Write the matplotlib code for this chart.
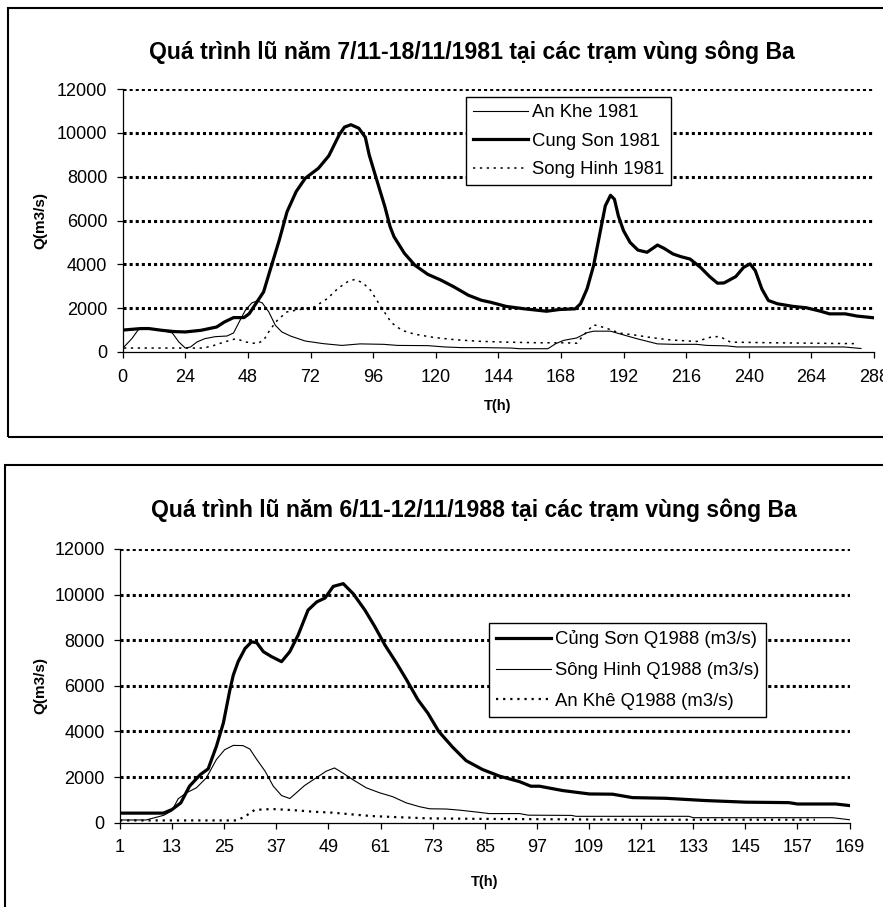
import matplotlib
matplotlib.use("Agg")
import matplotlib.pyplot as plt
from matplotlib.patches import Rectangle

plt.rcParams['font.family'] = ['Liberation Sans', 'DejaVu Sans']

# ---------------- data: 1981 flood ----------------
t_ankhe81 = [0.5, 3.5, 6, 9, 14.5, 19, 21.5, 24, 26, 28.5, 31.5, 35.5, 40, 42.5, 45, 47, 49.5,
             51.5, 53.5, 56, 58.5, 61, 64.5, 70, 77, 84, 91, 100, 105.5, 117, 123.5, 130, 138,
             149, 152, 163, 166, 169, 174, 178, 180.5, 187, 190.5, 197, 205, 211, 220, 224,
             231.5, 235.5, 249.5, 276.5, 283]
q_ankhe81 = [230, 610, 1020, 1070, 990, 870, 460, 180, 230, 460, 610, 700, 730, 870, 1450, 1900,
             2240, 2330, 2240, 1830, 1220, 915, 720, 500, 380, 300, 370, 350, 300, 290, 230, 200,
             200, 180, 150, 150, 380, 530, 640, 880, 950, 950, 830, 610, 370, 350, 350, 300, 280,
             230, 230, 230, 160]

t_cungson81 = [0, 3, 7, 10, 15, 20, 24, 30, 36, 39, 42.5, 46.5, 48.5, 51.5, 54, 56.5, 60, 63,
               66.5, 70, 75, 79, 83, 85, 87.5, 90.5, 93, 94.5, 97, 100.5, 102.5, 104, 108, 112,
               117, 122, 127, 132.5, 137.5, 141, 147, 154, 162.5, 167.5, 173.5, 175.5, 178,
               180.5, 182.5, 185, 187, 188.5, 190, 192, 194.5, 197.5, 201, 205, 207.5, 211, 214,
               217.5, 221.5, 225, 228, 230.5, 235, 238, 240.5, 242.5, 245, 247.5, 251, 257, 262,
               267.5, 271, 277, 281.5, 288]
q_cungson81 = [1000, 1030, 1070, 1070, 990, 930, 915, 990, 1140, 1370, 1570, 1570, 1750, 2290,
               2740, 3730, 5100, 6400, 7320, 7930, 8380, 8950, 9910, 10260, 10370, 10210, 9800,
               8990, 8000, 6630, 5720, 5260, 4500, 3960, 3540, 3280, 2970, 2590, 2360, 2270,
               2080, 1970, 1860, 1940, 1970, 2200, 2880, 3940, 5150, 6670, 7150, 6970, 6210,
               5530, 5000, 4650, 4550, 4880, 4730, 4470, 4350, 4240, 3860, 3440, 3140, 3150,
               3440, 3860, 4020, 3710, 2880, 2350, 2200, 2080, 2020, 1860, 1740, 1740, 1640,
               1560]

t_songhinh81 = [0.5, 14, 31, 35, 39, 43.5, 47, 51.5, 54, 56.5, 59.5, 63, 68, 73.5, 78.5, 82.5,
                86.5, 89, 92, 95, 99, 103, 107, 112, 119.5, 127.5, 136.5, 147, 160, 170, 174,
                178, 180.5, 183, 187, 190.5, 196, 203, 210, 220, 226, 229, 233, 250, 265, 282]
q_songhinh81 = [180, 180, 180, 300, 460, 610, 460, 380, 530, 1020, 1480, 1830, 1940, 2060, 2440,
                2900, 3230, 3310, 3160, 2820, 2060, 1340, 990, 810, 660, 560, 490, 450, 420, 420,
                400, 940, 1240, 1170, 1020, 860, 780, 650, 550, 480, 700, 700, 450, 420, 400, 380]

labels81 = ['An Khe 1981', 'Cung Son 1981', 'Song Hinh 1981']
xticks81 = list(range(0, 289, 24))

# ---------------- data: 1988 flood ----------------
h_cungson88 = [1, 11, 13, 15, 17, 19.5, 21.3, 23.2, 24.8, 26.3, 27.1, 28.2, 29.8, 31.3, 32.5, 34,
               35.9, 38.2, 40.1, 42, 44.3, 46.3, 48.2, 50.1, 52.4, 54.7, 57.4, 59.7, 62, 64.7,
               67, 69.6, 71.9, 74.4, 77.6, 80.7, 84.5, 88.4, 93, 95.6, 97.6, 102.9, 109.1, 114.4,
               119, 126.7, 135.9, 145.1, 155, 157, 165.8, 169]
q_cungson88 = [420, 420, 580, 870, 1600, 2110, 2360, 3350, 4370, 5820, 6480, 7060, 7640, 7930,
               7890, 7500, 7280, 7060, 7500, 8220, 9320, 9680, 9850, 10360, 10480, 10040, 9320,
               8590, 7790, 6990, 6260, 5390, 4800, 4000, 3310, 2720, 2330, 2040, 1800, 1600, 1600,
               1410, 1260, 1250, 1100, 1070, 970, 900, 880, 820, 820, 750]

h_songhinh88 = [1, 7, 11, 12.9, 14.4, 16.3, 18.6, 20.9, 23.2, 25.1, 27.1, 29.3, 30.9, 32.5, 34.4,
                36.3, 38.2, 40.1, 41.6, 43.5, 46.2, 48.5, 50.4, 52.3, 54.6, 57.7, 60.8, 63.8,
                66.9, 70, 72.3, 76.1, 79.2, 83, 86, 93, 95, 105, 106, 132, 133, 165, 169]
q_songhinh88 = [120, 120, 320, 510, 1050, 1310, 1530, 1970, 2770, 3200, 3390, 3380, 3230, 2770,
                2260, 1600, 1190, 1060, 1310, 1630, 1970, 2260, 2400, 2180, 1890, 1530, 1310,
                1140, 870, 700, 610, 600, 550, 470, 400, 400, 330, 320, 280, 280, 220, 220, 130]

h_ankhe88 = [1, 28, 30, 32, 36, 41, 45.5, 50, 54.6, 59, 64, 68, 72, 83, 100, 120, 161]
q_ankhe88 = [100, 100, 300, 560, 600, 550, 480, 440, 360, 290, 250, 220, 190, 170, 150, 130, 130]

labels88 = ['Củng Sơn Q1988 (m3/s)', 'Sông Hinh Q1988 (m3/s)', 'An Khê Q1988 (m3/s)']
xticks88 = list(range(1, 170, 12))
yticks = list(range(0, 12001, 2000))

title81 = 'Quá trình lũ năm 7/11-18/11/1981 tại các trạm vùng sông Ba'
title88 = 'Quá trình lũ năm 6/11-12/11/1988 tại các trạm vùng sông Ba'

# ---------------- figure ----------------
W, H = 883, 907
fig = plt.figure(figsize=(W / 100, H / 100), dpi=100)


def fx(px):
    return px / W


def fy(py):
    return 1 - py / H


THICK = 2.3
THIN = 0.8
TICKFS = 13
LEGFS = 13.3
TITLEFS = 16.6


def style_axes(ax, xticks, xlim):
    ax.set_xlim(*xlim)
    ax.set_ylim(0, 12000)
    ax.set_xticks(xticks)
    ax.set_yticks(yticks)
    for s in ('top', 'right'):
        ax.spines[s].set_visible(False)
    for s in ('left', 'bottom'):
        ax.spines[s].set_linewidth(0.9)
    ax.tick_params(axis='both', direction='out', length=4, width=0.9, labelsize=TICKFS, color='black')
    ax.tick_params(axis='x', pad=8)
    ax.tick_params(axis='y', pad=7)
    ax.yaxis.grid(True, color='black', linewidth=2.2, linestyle=(0, (1, 1)))
    ax.set_axisbelow(True)
    gl = ax.get_ygridlines()
    gl[0].set_visible(False)


# frames
fig.add_artist(Rectangle((fx(8), fy(437)), fx(900 - 8), (437 - 8) / H, transform=fig.transFigure,
                         fill=False, edgecolor='black', linewidth=1.5, clip_on=False))
fig.add_artist(Rectangle((fx(5), -0.05), fx(900 - 5), fy(465) + 0.05, transform=fig.transFigure,
                         fill=False, edgecolor='black', linewidth=1.5, clip_on=False))

# ---- top chart ----
ax1 = fig.add_axes([fx(122.7), fy(352), fx(874) - fx(122.7), fy(89) - fy(352)])
style_axes(ax1, xticks81, (0, 288))
l1, = ax1.plot(t_ankhe81, q_ankhe81, color='black', lw=THIN)
l2, = ax1.plot(t_cungson81, q_cungson81, color='black', lw=THICK)
l3, = ax1.plot(t_songhinh81, q_songhinh81, color='black', lw=1.1, linestyle=(0, (1.5, 3)))
ax1.legend([l1, l2, l3], labels81, loc='upper left',
           bbox_to_anchor=(fx(465.7), fy(97.3)), bbox_transform=fig.transFigure,
           fontsize=LEGFS, frameon=True, fancybox=False, framealpha=1, edgecolor='black',
           handlelength=3.0, handletextpad=0.2, labelspacing=0.62, borderpad=0.38,
           borderaxespad=0)
ax1.get_legend().get_frame().set_linewidth(1.0)
fig.text(fx(472), fy(52), title81, ha='center', va='center', fontsize=TITLEFS, fontweight='bold')
fig.text(fx(40), fy(220.5), 'Q(m3/s)', ha='center', va='center', rotation=90, fontsize=11,
         fontweight='bold')
fig.text(fx(498), fy(406), 'T(h)', ha='center', va='center', fontsize=10.5, fontweight='bold')

# ---- bottom chart ----
ax2 = fig.add_axes([fx(120), fy(822.7), fx(849.6) - fx(120), fy(549) - fy(822.7)])
style_axes(ax2, xticks88, (1, 169))
m1, = ax2.plot(h_cungson88, q_cungson88, color='black', lw=THICK)
m2, = ax2.plot(h_songhinh88, q_songhinh88, color='black', lw=THIN)
m3, = ax2.plot(h_ankhe88, q_ankhe88, color='black', lw=1.6, linestyle=(0, (1, 2.2)))
ax2.legend([m1, m2, m3], labels88, loc='upper left',
           bbox_to_anchor=(fx(488.7), fy(623.3)), bbox_transform=fig.transFigure,
           fontsize=LEGFS, frameon=True, fancybox=False, framealpha=1, edgecolor='black',
           handlelength=3.0, handletextpad=0.2, labelspacing=0.74, borderpad=0.38,
           borderaxespad=0)
ax2.get_legend().get_frame().set_linewidth(1.0)
fig.text(fx(473.5), fy(510.7), title88, ha='center', va='center', fontsize=TITLEFS, fontweight='bold')
fig.text(fx(40), fy(686), 'Q(m3/s)', ha='center', va='center', rotation=90, fontsize=11,
         fontweight='bold')
fig.text(fx(485), fy(882), 'T(h)', ha='center', va='center', fontsize=10.5, fontweight='bold')

fig.savefig('out.png', dpi=100)
